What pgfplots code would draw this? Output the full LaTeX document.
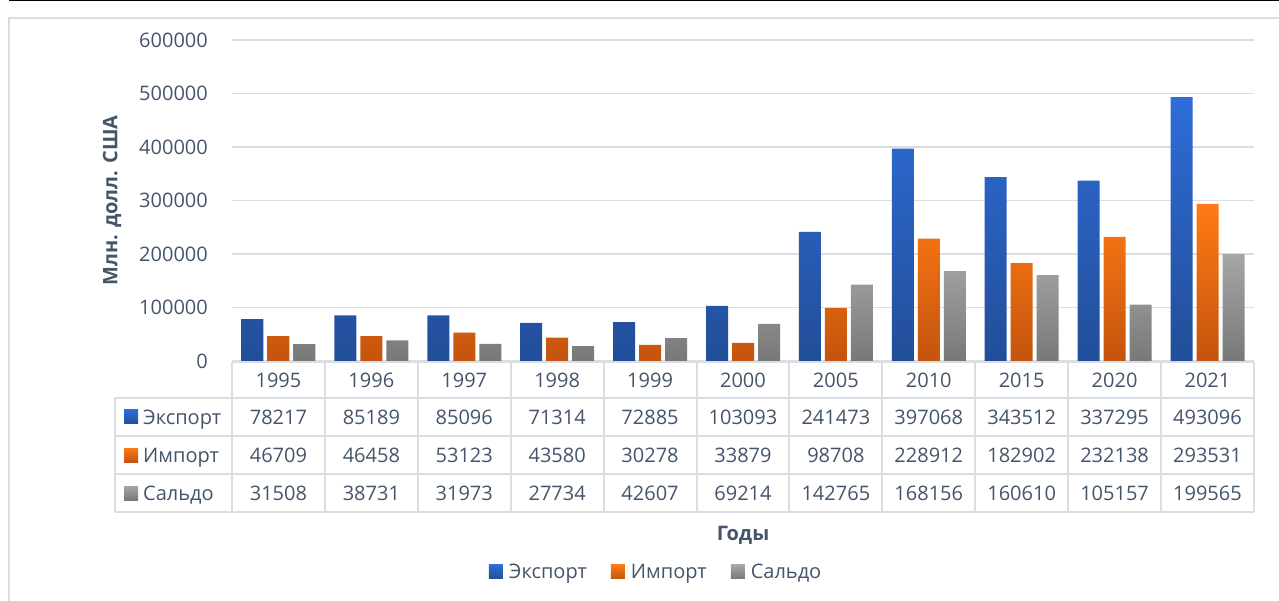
\documentclass[border=0pt]{standalone}
\usepackage{fontspec}
\setmainfont{Open Sans}
\usepackage{pgfplots}
\usepackage{pgfplotstable}
\pgfplotsset{compat=1.18}
\definecolor{txt}{RGB}{68,84,106}
\definecolor{gridc}{RGB}{217,222,229}
\definecolor{framec}{RGB}{217,222,229}
\definecolor{bt}{RGB}{46,108,216}
\definecolor{bb}{RGB}{34,78,152}
\definecolor{ot}{RGB}{255,122,20}
\definecolor{ob}{RGB}{196,84,14}
\definecolor{gt}{RGB}{166,166,166}
\definecolor{gb}{RGB}{120,120,120}
\pgfplotstableread{
x exp imp sal
0 78217 46709 31508
1 85189 46458 38731
2 85096 53123 31973
3 71314 43580 27734
4 72885 30278 42607
5 103093 33879 69214
6 241473 98708 142765
7 397068 228912 168156
8 343512 182902 160610
9 337295 232138 105157
10 493096 293531 199565
}\datatable
\begin{document}
\begin{tikzpicture}[x=1pt,y=1pt,font=\fontsize{20}{24}\selectfont,color=txt,
  cell/.style={inner sep=0pt,text height=14.3pt,text depth=0pt,anchor=center}]
\path[use as bounding box] (0pt,0pt) rectangle (1279pt,600pt);
\draw[framec,line width=1.5pt] (9pt,-20pt) -- (9pt,582pt) -- (1300pt,582pt);
\draw[black,line width=2pt] (9pt,599.5pt) -- (1279pt,599.5pt);
\begin{axis}[at={(232pt,239pt)},anchor=south west,scale only axis,
  width=1022pt,height=321pt,
  xmin=-0.5,xmax=10.5,ymin=0,ymax=600000,
  ytick={0,100000,200000,300000,400000,500000,600000},
  xtick=\empty,
  axis line style={draw=none},
  major tick length=0pt,
  ymajorgrids,
  grid style={gridc,line width=1.5pt},
  scaled y ticks=false,
  y tick label style={/pgf/number format/fixed,/pgf/number format/1000 sep={},
    /pgf/number format/assume math mode=true,inner sep=0pt,xshift=-24pt,
    font=\fontsize{20}{24}\selectfont,text=txt},
  ybar=4pt,bar width=22pt,
  legend style={at={(axis description cs:0.414,-0.657)},anchor=center,
    draw=none,fill=none,legend columns=-1,text=txt,
    font=\fontsize{20}{24}\selectfont,
    nodes={inner sep=0pt},
    /tikz/every odd column/.append style={column sep=6pt},
    /tikz/every even column/.append style={column sep=24pt}},
  legend image code/.code={\path[#1,draw=none] (0pt,-7pt) rectangle (14pt,7pt);},
  clip=false
]
\addplot[draw=none,top color=bt,bottom color=bb] table[x=x,y=exp]{\datatable};
\addplot[draw=none,top color=ot,bottom color=ob] table[x=x,y=imp]{\datatable};
\addplot[draw=none,top color=gt,bottom color=gb] table[x=x,y=sal]{\datatable};
\legend{Экспорт,Импорт,Сальдо}
\node[rotate=90,font=\fontsize{20}{24}\selectfont\bfseries,text=txt] at (axis description cs:-0.1174,0.5) {Млн. долл. США};
\end{axis}
% data table
\draw[gridc,line width=2pt] (232pt,238pt) -- (1254pt,238pt);
\foreach \yy in {202,164,126,88} {\draw[gridc,line width=2pt] (115pt,\yy pt) -- (1254pt,\yy pt);}
\foreach \i in {0,...,11} {\draw[gridc,line width=2pt] ({232pt+92.9pt*\i},238pt) -- ({232pt+92.9pt*\i},88pt);}
\draw[gridc,line width=2pt] (115pt,202pt) -- (115pt,88pt);
\foreach \v [count=\i from 0] in {1995,1996,1997,1998,1999,2000,2005,2010,2015,2020,2021}
  {\node[cell] at ({278.45pt+92.9pt*\i},220pt) {\v};}
\foreach \v [count=\i from 0] in {78217,85189,85096,71314,72885,103093,241473,397068,343512,337295,493096}
  {\node[cell] at ({278.45pt+92.9pt*\i},183pt) {\v};}
\foreach \v [count=\i from 0] in {46709,46458,53123,43580,30278,33879,98708,228912,182902,232138,293531}
  {\node[cell] at ({278.45pt+92.9pt*\i},145pt) {\v};}
\foreach \v [count=\i from 0] in {31508,38731,31973,27734,42607,69214,142765,168156,160610,105157,199565}
  {\node[cell] at ({278.45pt+92.9pt*\i},107pt) {\v};}
\path[top color=bt,bottom color=bb] (124pt,176pt) rectangle (138pt,190pt);
\path[top color=ot,bottom color=ob] (124pt,138pt) rectangle (138pt,152pt);
\path[top color=gt,bottom color=gb] (124pt,100pt) rectangle (138pt,114pt);
\node[cell,anchor=west] at (143pt,183pt) {Экспорт};
\node[cell,anchor=west] at (143pt,145pt) {Импорт};
\node[cell,anchor=west] at (143pt,107pt) {Сальдо};
\node[cell,font=\fontsize{20}{24}\selectfont\bfseries] at (743pt,67pt) {Годы};
\end{tikzpicture}
\end{document}
